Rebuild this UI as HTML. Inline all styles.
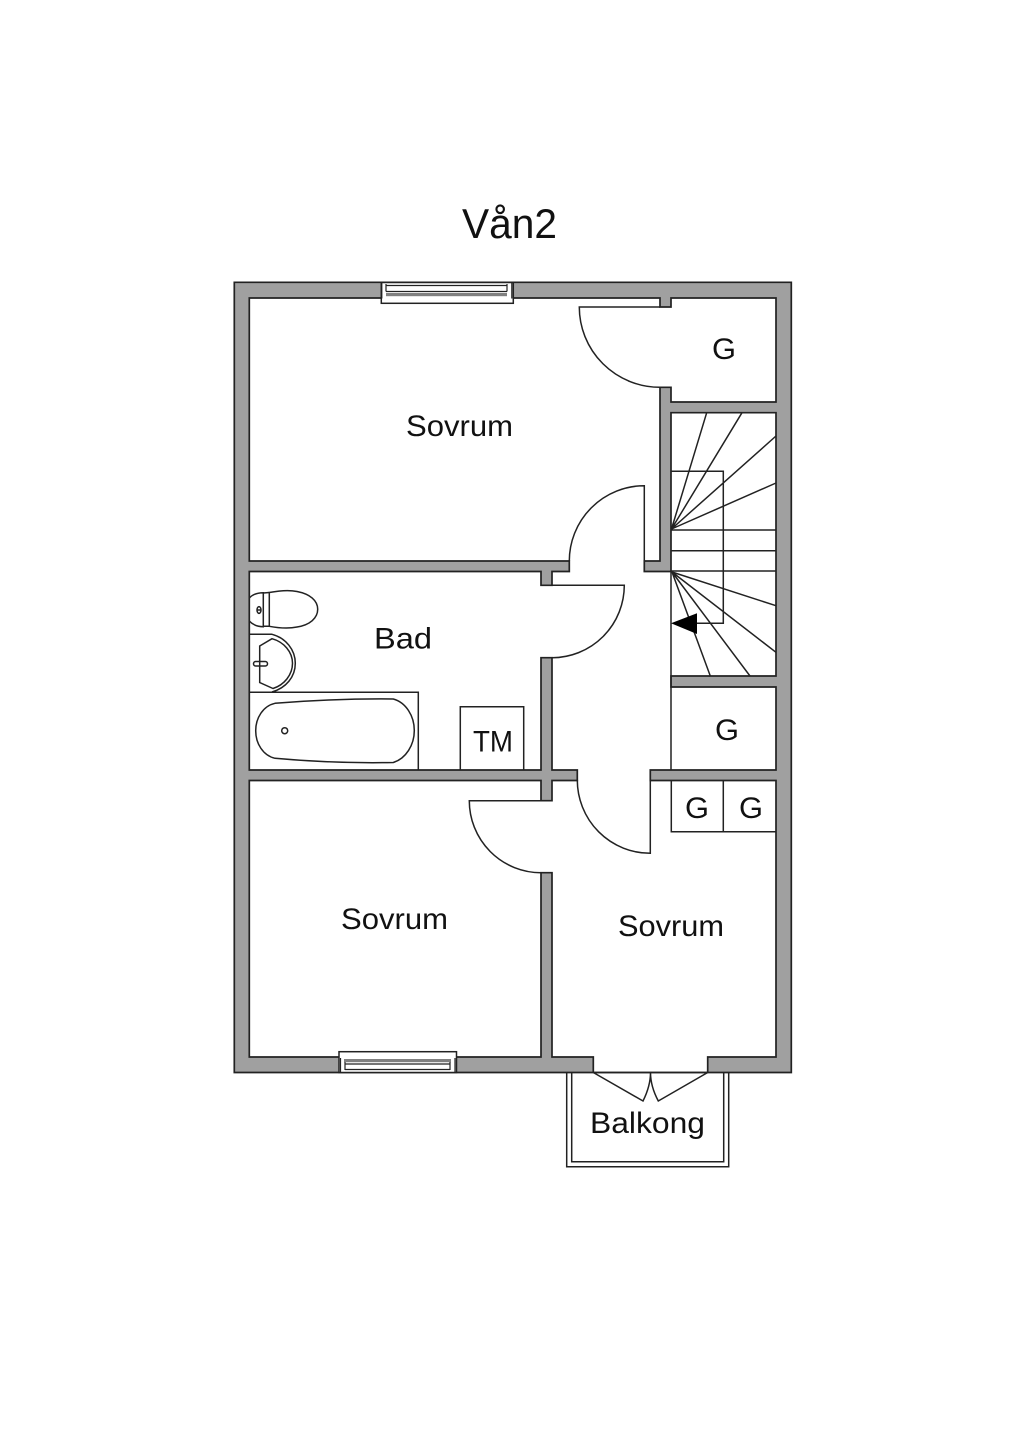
<!DOCTYPE html>
<html><head><meta charset="utf-8"><style>
html,body{margin:0;padding:0;background:#fff}
svg{display:block}
text{font-family:"Liberation Sans",sans-serif;fill:#111;font-weight:400}
</style></head><body>
<svg width="1024" height="1448" viewBox="0 0 1024 1448" xmlns="http://www.w3.org/2000/svg">
<rect width="1024" height="1448" fill="#fff"/>
<path fill="#a0a0a0" stroke="#222" stroke-width="1.7" fill-rule="evenodd" d="M234.3 282.3H791.3V1072.5H234.3Z M593.3 1072.5V1057H552V872.7H541V1057H249.3V780.5H541V800.7H552V780.5H577.3V770H552V657.7H541V770H249.3V571.5H541V585.3H552V571.5H569.3V561H249.3V298H660V307H671V298H776V402H671V387.3H660V561H644.3V571.5H671V412.7H776V676H671V687H776V770H650.3V780.5H776V1057H707.7V1072.5Z"/>
<g fill="none" stroke="#222" stroke-width="1.5">
<!-- thin lines -->
<path d="M593.3 1072.5H707.7"/>
<path d="M671 571.5V770"/>
<!-- door leaves -->
<path d="M660 307H579.3A80.7 80.3 0 0 0 660 387.3"/>
<path d="M644.3 561V485.7A75.3 75.3 0 0 0 569.3 561"/>
<path d="M552 585.3H624.3A72.3 72.4 0 0 1 552 657.7"/>
<path d="M541 800.7H469.3A71.7 72 0 0 0 541 872.7"/>
<path d="M650.3 780V853.3A73 73.3 0 0 1 577.3 780"/>
<!-- stairs -->
<path d="M671.5 529L706.7 412.7M671.5 529L742 412.7M671.5 529L776 436M671.5 529L776 483M671.5 530H776M671.5 550.7H776M671.5 571H776"/>
<path d="M672 572L776 605.7M672 572L776 652.3M672 572L750 676M672 572L710.3 676"/>
<path d="M671.5 471.3H723.3V623.3H690"/>
<!-- closets -->
<path d="M671.3 780.5V831.7H776M723.3 780.5V831.7"/>
<!-- TM -->
<path d="M460.3 770V706.7H523.7V770"/>
<!-- bath -->
<path d="M249.3 692.3H418.3V770"/>
<path d="M275 703.3C310 700.5 355 698.6 393.3 699C406 702.5 414.3 716 414.3 730.5C414.3 745 406 758.5 393.3 762.5C355 763.2 310 761.5 275 758.3C263 755.5 255.7 743.5 255.7 730.7C255.7 718 263 706 275 703.3Z"/>
<circle cx="284.7" cy="730.7" r="3"/>
<!-- sink -->
<path d="M249.3 634.3H272C286 638 295.3 650 295.3 663.3C295.3 677 286 688 272 692"/>
<path d="M259.7 646L272 638.7C284 642 292.5 652 292.5 663.3C292.5 675 284 685 273 688.5L259.7 682.5Z"/>
<rect x="253.5" y="661.5" width="14" height="4.5" rx="2.2"/>
<!-- toilet -->
<path d="M249.3 598C253 594 258 592.7 263.3 592.7V626.7C258 626.7 253 625 249.3 621"/>
<path d="M269.3 592.5C280 590.5 290 590 297 591.5C310 594 317.7 600.5 317.7 609.3C317.7 618 310 625 297 627C290 628.5 280 628.3 269.3 626.3Z"/>
<path d="M263.3 593L269.3 592.5M263.3 626.3L269.3 626.3"/>
<ellipse cx="259" cy="610" rx="2" ry="3.4"/>
<path d="M257 610H261"/>
<!-- balcony -->
<path d="M566.7 1072.5V1166.7H728.7V1072.5"/>
<path d="M571.7 1072.5V1161.7H723.7V1072.5"/>
<path d="M593.3 1072.5L643 1101C648 1091 650.5 1082 650.5 1072.5C650.5 1082 653 1091 658.3 1101L707.7 1072.5"/>
</g>
<path d="M671 623.3L697 613.3V634Z" fill="#000"/>
<!-- top window -->
<rect x="381.3" y="282.5" width="132" height="20.8" fill="#fff" stroke="#222" stroke-width="1.5"/>
<rect x="386" y="293" width="121" height="3.2" fill="#808080"/>
<path d="M386 285.5H507M386 291.5H507M386 284V291.5M507 284V291.5M381.8 298.5V283M511.8 298.5V283" fill="none" stroke="#222" stroke-width="1.2"/>
<!-- bottom window -->
<rect x="339" y="1051.7" width="117.5" height="20.8" fill="#fff" stroke="#222" stroke-width="1.5"/>
<rect x="344" y="1059" width="107" height="3.2" fill="#808080"/>
<path d="M345 1064H450M345 1069.5H450M345 1062V1070M450 1062V1070M340.5 1058V1072M455 1058V1072" fill="none" stroke="#222" stroke-width="1.2"/>
<!-- labels -->
<text x="462" y="238" font-size="42" textLength="95" lengthAdjust="spacingAndGlyphs">Vån2</text>
<text x="406" y="436" font-size="30" textLength="107" lengthAdjust="spacingAndGlyphs">Sovrum</text>
<text x="341" y="929" font-size="30" textLength="107" lengthAdjust="spacingAndGlyphs">Sovrum</text>
<text x="618" y="936" font-size="30" textLength="106" lengthAdjust="spacingAndGlyphs">Sovrum</text>
<text x="374" y="648.5" font-size="30" textLength="58" lengthAdjust="spacingAndGlyphs">Bad</text>
<text x="473" y="751.5" font-size="30" textLength="40" lengthAdjust="spacingAndGlyphs">TM</text>
<text x="590" y="1133" font-size="30" textLength="115" lengthAdjust="spacingAndGlyphs">Balkong</text>
<text x="712" y="359" font-size="30" textLength="24" lengthAdjust="spacingAndGlyphs">G</text>
<text x="715" y="740" font-size="30" textLength="24" lengthAdjust="spacingAndGlyphs">G</text>
<text x="685" y="818" font-size="30" textLength="24" lengthAdjust="spacingAndGlyphs">G</text>
<text x="739" y="818" font-size="30" textLength="24" lengthAdjust="spacingAndGlyphs">G</text>
</svg>
</body></html>
